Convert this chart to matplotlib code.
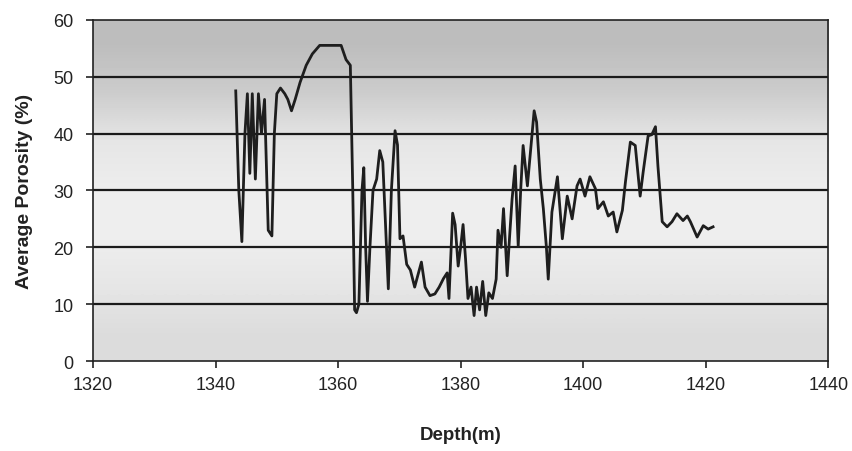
import matplotlib
matplotlib.use("Agg")
import matplotlib.pyplot as plt
import numpy as np

depth = [1343.3, 1343.8, 1344.3, 1344.8, 1345.2, 1345.6, 1346.0, 1346.5, 1347.0, 1347.5,
         1348.0, 1348.6, 1349.2, 1349.6, 1350.0, 1350.6, 1351.3, 1351.8, 1352.4, 1353.0,
         1353.8, 1354.8, 1355.8, 1357.0, 1358.5, 1360.5, 1361.3, 1362.0, 1362.4, 1362.7,
         1363.0, 1363.4, 1363.9, 1364.2, 1364.5, 1364.8, 1365.2, 1365.7, 1366.3, 1366.8,
         1367.3, 1367.7, 1368.2, 1368.7, 1369.3, 1369.7, 1370.1, 1370.6, 1371.2, 1371.8,
         1372.5, 1373.0, 1373.6, 1374.2, 1375.0, 1375.8, 1376.5, 1377.2, 1377.8, 1378.1,
         1378.7, 1379.1, 1379.6, 1380.0, 1380.4, 1380.8, 1381.2, 1381.7, 1382.2, 1382.6,
         1383.1, 1383.6, 1384.1, 1384.6, 1385.2, 1385.8, 1386.1, 1386.6, 1387.0, 1387.6,
         1388.0, 1388.4, 1388.9, 1389.4, 1389.8, 1390.2, 1390.9, 1391.5, 1392.0, 1392.4,
         1393.0, 1393.5, 1394.0, 1394.3, 1394.9, 1395.8, 1396.6, 1397.4, 1398.2, 1399.0,
         1399.5, 1400.3, 1401.1, 1402.0, 1402.4, 1403.3, 1404.1, 1404.9, 1405.5, 1406.4,
         1406.9, 1407.7, 1408.5, 1409.3, 1409.8, 1410.6, 1411.2, 1411.8, 1412.2, 1412.9,
         1413.7, 1414.5, 1415.3, 1416.3, 1417.0, 1417.5, 1418.6, 1419.6, 1420.4, 1421.2]
porosity = [47.5, 30, 21, 40, 47, 33, 47, 32, 47, 40,
            46, 23, 22, 40, 47, 48, 47, 46, 44, 46,
            49, 52, 54, 55.5, 55.5, 55.5, 53, 52, 30, 9,
            8.5, 10, 30, 34, 20, 10.5, 20, 30, 32, 37,
            35, 25, 12.7, 30, 40.5, 38, 21.5, 22, 17, 16,
            13, 15, 17.4, 13, 11.5, 11.8, 13, 14.5, 15.5, 11,
            26, 24, 16.7, 20, 24, 18, 11, 13, 8, 13,
            9, 14, 8, 12, 11, 14.4, 23, 20, 26.8, 15,
            22, 28.5, 34.3, 20.2, 30, 37.9, 30.8, 38, 44, 42,
            32, 26.8, 20, 14.4, 26.2, 32.4, 21.5, 29, 25, 30.8,
            32, 29, 32.4, 30.3, 26.8, 28, 25.5, 26.2, 22.7, 26.5,
            31.5, 38.5, 37.9, 29, 33.3, 39.6, 39.8, 41.2, 34.3, 24.5,
            23.6, 24.5, 25.9, 24.7, 25.5, 24.5, 21.8, 23.8, 23.2, 23.6]
xticks = [1320, 1340, 1360, 1380, 1400, 1420, 1440]
yticks = [0, 10, 20, 30, 40, 50, 60]

plt.rcParams["font.family"] = ["Liberation Sans", "DejaVu Sans"]

fig = plt.figure(figsize=(8.53, 4.52), dpi=100)
fig.patch.set_facecolor("white")
ax = fig.add_axes([0.109, 0.199, 0.862, 0.755])

# grey Excel-style plot area: light in the middle, darker at the top
shade = np.array([0.86, 0.90, 0.93, 0.93, 0.90, 0.80, 0.74]).reshape(-1, 1)
ax.imshow(shade, cmap="gray", vmin=0, vmax=1, aspect="auto", interpolation="bilinear",
          extent=[xticks[0], xticks[-1], yticks[0], yticks[-1]], origin="lower", zorder=0)

for y in yticks[1:-1]:
    ax.axhline(y, color="#1a1a1a", lw=1.6, zorder=1)

ax.plot(depth, porosity, color="#1e1e1e", lw=2.0, zorder=3)

ax.set_xlim(xticks[0], xticks[-1])
ax.set_ylim(yticks[0], yticks[-1])
ax.set_xticks(xticks)
ax.set_yticks(yticks)
ax.tick_params(direction="out", length=5, width=1.2, color="#222222",
               labelsize=13, labelcolor="#222222")
ax.tick_params(axis="y", pad=9)
ax.tick_params(axis="x", pad=6)
for s in ax.spines.values():
    s.set_color("#222222")
    s.set_linewidth(1.2)

ax.set_xlabel("Depth(m)", fontsize=13.5, fontweight="bold", color="#222222")
ax.set_ylabel("Average Porosity (%)", fontsize=14, fontweight="bold", color="#222222")
ax.xaxis.set_label_coords(0.5, -0.19)
ax.yaxis.set_label_coords(-0.082, 0.5)

fig.savefig("out.png", dpi=100)
